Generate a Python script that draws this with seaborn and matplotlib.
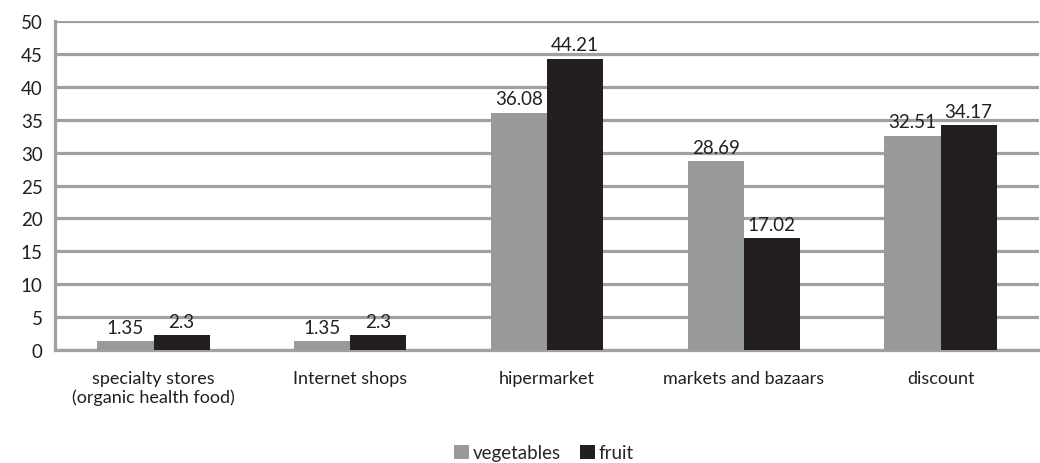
import matplotlib
matplotlib.use('Agg')
import matplotlib.pyplot as plt
from matplotlib.ticker import FixedLocator
import seaborn as sns
import pandas as pd

categories = ['specialty stores\n(organic health food)', 'Internet shops',
              'hipermarket', 'markets and bazaars', 'discount']
vegetables = [1.35, 1.35, 36.08, 28.69, 32.51]
fruit = [2.3, 2.3, 44.21, 17.02, 34.17]
series = ['vegetables', 'fruit']

GRID = '#a0a0a0'
TEXT = '#231f20'
COLOURS = {'vegetables': '#98999b', 'fruit': '#231f20'}

df = pd.DataFrame({
    'category': categories * 2,
    'value': vegetables + fruit,
    'series': ['vegetables'] * len(categories) + ['fruit'] * len(categories),
})

sns.set_style('white')
plt.rcParams['font.family'] = ['Lato', 'DejaVu Sans']

fig = plt.figure(figsize=(10.4, 4.64), dpi=100)
ax = fig.add_axes([0.053, 0.243, 0.946, 0.71])

sns.barplot(data=df, x='category', y='value', hue='series', hue_order=series,
            palette=COLOURS, width=0.57, gap=0, saturation=1, ax=ax,
            edgecolor='none', linewidth=0, zorder=3)

ax.set_ylim(0, 50)
ax.set_xlim(-0.5, len(categories) - 0.5)
ax.set_yticks(range(0, 51, 5))
ax.yaxis.grid(True, color=GRID, linewidth=2.3, zorder=0)
ax.set_axisbelow(True)

for side in ['top', 'right']:
    ax.spines[side].set_visible(False)
for side in ['left', 'bottom']:
    ax.spines[side].set_color(GRID)
    ax.spines[side].set_linewidth(2.3)

ax.tick_params(axis='y', length=5, width=2.3, color=GRID, labelsize=13.5,
               labelcolor=TEXT, pad=4)
ax.tick_params(axis='x', which='major', length=0, labelsize=13,
               labelcolor=TEXT, pad=14)
ax.xaxis.set_minor_locator(FixedLocator([i - 0.5 for i in range(len(categories) + 1)]))
ax.tick_params(axis='x', which='minor', length=6, width=2.3, color=GRID)

for container in ax.containers:
    ax.bar_label(container, labels=[f'{v:g}' for v in container.datavalues],
                 padding=4, fontsize=13.5, color=TEXT)

ax.set_xlabel('')
ax.set_ylabel('')

handles, labels = ax.get_legend_handles_labels()
ax.legend(handles, labels, loc='lower center', bbox_to_anchor=(0.5 - 0.003, -0.36),
          ncol=2, frameon=False, fontsize=13.5, handlelength=0.8, handleheight=0.8,
          handletextpad=0.2, columnspacing=1.0, borderaxespad=0)

fig.savefig('out.png', dpi=100)
